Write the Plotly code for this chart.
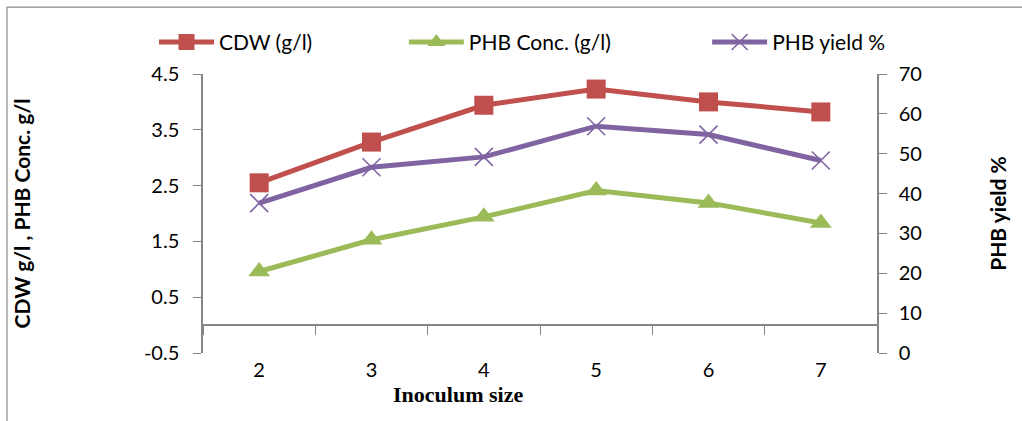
import plotly.graph_objects as go

inoculum = [2, 3, 4, 5, 6, 7]
cdw = [2.55, 3.28, 3.94, 4.23, 4.00, 3.82]
phb_conc = [0.96, 1.53, 1.94, 2.41, 2.19, 1.83]
phb_yield = [37.6, 46.6, 49.2, 56.9, 54.8, 48.3]

left_ticks = [-0.5, 0.5, 1.5, 2.5, 3.5, 4.5]
left_labels = ["-0.5", "0.5", "1.5", "2.5", "3.5", "4.5"]
right_ticks = [0, 10, 20, 30, 40, 50, 60, 70]
boundaries = [1.5, 2.5, 3.5, 4.5, 5.5, 6.5, 7.5]

RED = "#C0504D"
GREEN = "#9BBB59"
PURPLE = "#8064A2"
AX = "#868686"
TICKFONT = dict(family="Lato, Open Sans, sans-serif", size=20, color="#000")
TITLEFONT = dict(family="Lato, Open Sans, sans-serif", size=21, color="#000")
LEGFONT = dict(family="Lato, Open Sans, sans-serif", size=21, color="#000")

fig = go.Figure()
fig.add_trace(go.Scatter(x=inoculum, y=cdw, name="CDW (g/l)", mode="lines+markers",
                         legend="legend",
                         line=dict(color=RED, width=5),
                         marker=dict(symbol="square", size=19, color=RED)))
fig.add_trace(go.Scatter(x=inoculum, y=phb_conc, name="PHB Conc. (g/l)", mode="lines+markers",
                         legend="legend2",
                         line=dict(color=GREEN, width=5),
                         marker=dict(symbol="triangle-up", size=19, color=GREEN)))
fig.add_trace(go.Scatter(x=inoculum, y=phb_yield, name="PHB yield %", mode="lines+markers",
                         yaxis="y2", legend="legend3",
                         line=dict(color=PURPLE, width=5),
                         marker=dict(symbol="x-thin-open", size=18, line=dict(color=PURPLE, width=1.6))))
# invisible trace to activate the secondary x axis (line at y=0)
fig.add_trace(go.Scatter(x=[inoculum[0]], y=[0], xaxis="x2", mode="markers",
                         marker=dict(opacity=0), showlegend=False, hoverinfo="skip"))

leg_common = dict(orientation="h", xanchor="left", y=1.04, yanchor="bottom",
                  bgcolor="rgba(0,0,0,0)", font=LEGFONT, itemwidth=55)

fig.update_layout(
    width=1022, height=421,
    margin=dict(l=203, r=145, t=74, b=68, autoexpand=False),
    paper_bgcolor="white", plot_bgcolor="white",
    showlegend=True,
    legend=dict(x=-0.0727, **leg_common),
    legend2=dict(x=0.298, **leg_common),
    legend3=dict(x=0.748, **leg_common),
    xaxis=dict(range=[1.5, 7.5], tickvals=inoculum, ticks="", showline=False,
               showgrid=False, zeroline=False, tickfont=TICKFONT, ticklabelstandoff=3,
               automargin=False),
    xaxis2=dict(range=[1.5, 7.5], overlaying="x", anchor="free", position=0.1,
                tickvals=boundaries, ticks="outside", ticklen=9, tickcolor=AX,
                showticklabels=False, showline=True, linecolor=AX, linewidth=1.5,
                showgrid=False, zeroline=False),
    yaxis=dict(range=[-0.5, 4.5], tickvals=left_ticks, ticktext=left_labels,
               ticks="outside", ticklen=8, ticklabelstandoff=10, automargin=False,
               tickcolor=AX, showline=True, linecolor=AX, linewidth=1.5,
               showgrid=False, zeroline=False, tickfont=TICKFONT,
               title=dict(text="<b>CDW g/l , PHB Conc. g/l</b>", standoff=108,
                          font=TITLEFONT)),
    yaxis2=dict(range=[0, 70], tickvals=right_ticks, overlaying="y", side="right",
                ticks="outside", ticklen=8, ticklabelstandoff=8, automargin=False,
                tickcolor=AX, showline=True, linecolor=AX,
                linewidth=1.5, showgrid=False, zeroline=False, tickfont=TICKFONT,
                title=dict(text="<b>PHB yield %</b>", standoff=70,
                           font=TITLEFONT)),
    annotations=[dict(text="<b>Inoculum size</b>", xref="paper", yref="paper",
                      x=0.378, y=-0.15, xanchor="center", yanchor="middle", showarrow=False,
                      font=dict(family="Liberation Serif, serif", size=22, color="#000"))],
    shapes=[dict(type="rect", xref="paper", yref="paper",
                 x0=-0.2908, x1=1.25, y0=-0.3, y1=1.24,
                 line=dict(color="#8c8c8c", width=1.2), fillcolor="rgba(0,0,0,0)", layer="below")],
)

fig.write_html("out.html")
